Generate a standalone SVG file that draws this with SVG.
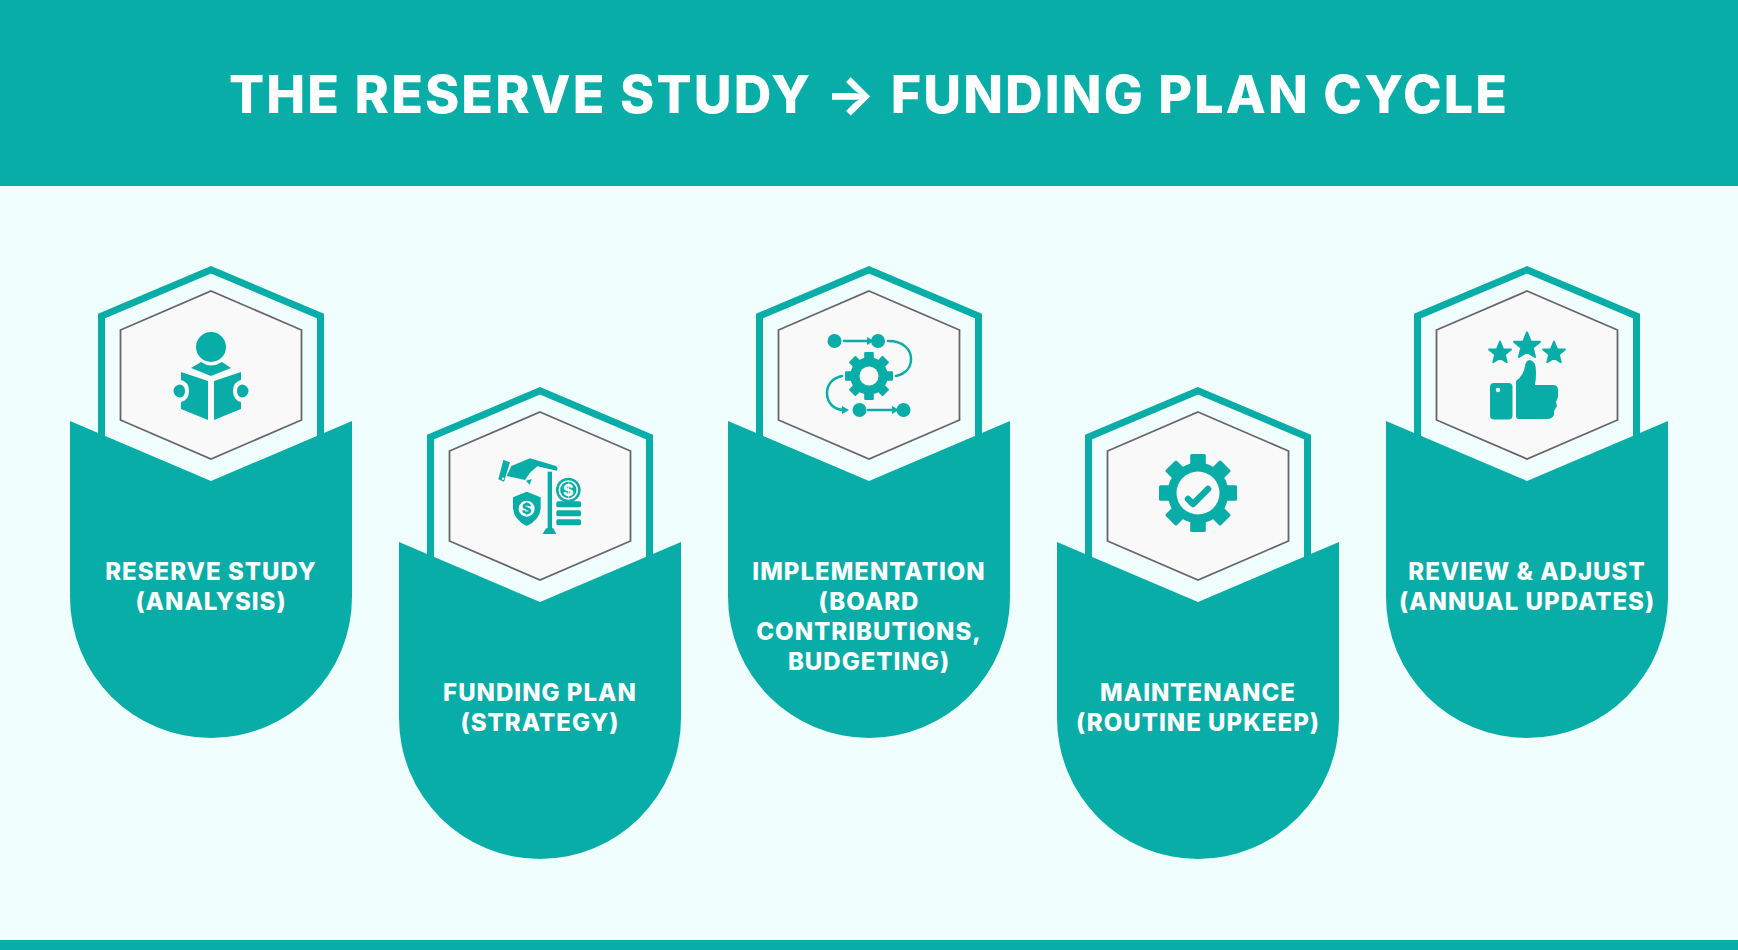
<svg xmlns="http://www.w3.org/2000/svg" width="1738" height="950" viewBox="0 0 1738 950">
<style>
.t{fill:#09ADA7}
.h{fill:none;stroke:#09ADA7;stroke-width:7;stroke-linejoin:miter}
.i{fill:#F9F9F9;stroke:#666;stroke-width:1.800;stroke-linejoin:miter}
.l{font-family:"Inter","Liberation Sans",sans-serif;font-weight:800;font-size:24px;fill:#fff;text-anchor:middle;letter-spacing:1px}
.w{fill:#fff}
.ln{fill:none;stroke:#09ADA7;stroke-linecap:round}
</style>
<defs>
<g id="frame">
<path class="h" d="M-109.500 190V50L0 3.800L109.500 50V190"/>
<path class="i" d="M0 25L90.500 64V154L0 193L-90.500 154V64Z"/>
<path class="t" d="M-141 155L0 215L141 155V331A141 141 0 0 1 -141 331Z"/>
</g>
<path id="star" d="M0 -1L.27 -.33L.951 -.309L.42 .13L.588 .809L0 .44L-.588 .809L-.42 .13L-.951 -.309L-.27 -.33Z" fill="#09ADA7" stroke="#09ADA7" stroke-width=".16" stroke-linejoin="round"/>
<g id="gear" class="t">
<circle r=".78"/>
<rect x="-.2" y="-1" width=".4" height="2" rx=".04"/>
<rect x="-.2" y="-1" width=".4" height="2" rx=".04" transform="rotate(45)"/>
<rect x="-.2" y="-1" width=".4" height="2" rx=".04" transform="rotate(90)"/>
<rect x="-.2" y="-1" width=".4" height="2" rx=".04" transform="rotate(135)"/>
</g>
</defs>
<rect width="1738" height="950" fill="#F0FFFE"/>
<rect width="1738" height="186" class="t"/>
<rect y="940" width="1738" height="10" class="t"/>
<text x="869" y="113" font-family="Inter,'Liberation Sans',sans-serif" font-weight="800" font-size="52" fill="#fff" text-anchor="middle" letter-spacing="2.100">THE RESERVE STUDY → FUNDING PLAN CYCLE</text>

<g id="node-reserve-study">
<use href="#frame" transform="translate(211 266)"/>
<circle class="t" cx="211" cy="347" r="15"/>
<path class="t" d="M191 368L201 362Q211 369 222 362L231 368L211 376Z"/>
<path class="t" d="M181 372L208 381V420L181 409V402Q189 400 189 391Q189 382 181 380Z"/>
<path class="t" d="M241 372L214 381V420L241 409V402Q233 400 233 391Q233 382 241 380Z"/>
<path class="t" d="M180 384.500Q185 385.500 185 391Q185 396.500 180 397.500A6.500 6.500 0 0 1 180 384.500Z"/>
<path class="t" d="M242 384.500Q237 385.500 237 391Q237 396.500 242 397.500A6.500 6.500 0 0 0 242 384.500Z"/>
<text class="l" x="211" y="580">RESERVE STUDY</text>
<text class="l" x="211" y="610">(ANALYSIS)</text>
</g>

<g id="node-funding-plan">
<use href="#frame" transform="translate(540 387)"/>
<g transform="translate(480 430) scale(.3333)">
<path class="t" d="M70 90L90 97L72 155L55 148Z"/>
<circle class="w" cx="69" cy="146" r="3.500"/>
<path class="t" d="M94 108L150 85L228 108Q236 114 230 122L172 109L150 128L135 150L80 138Z"/>
<path class="t" d="M138 152L155 147L149 164Z"/>
<rect class="t" x="203" y="125" width="13" height="175"/>
<path class="t" d="M188 312L198 295H220L229 312Z"/>
<circle class="t" cx="265" cy="180" r="37"/>
<circle fill="none" stroke="#F9F9F9" stroke-width="5" cx="265" cy="180" r="27"/>
<text x="265" y="198" font-family="Inter,sans-serif" font-weight="800" font-size="48" fill="#F9F9F9" text-anchor="middle">$</text>
<rect class="t" x="229" y="214" width="74" height="18" rx="5"/>
<rect class="t" x="229" y="241" width="74" height="18" rx="5"/>
<rect class="t" x="229" y="268" width="74" height="18" rx="5"/>
<path class="t" d="M140 185L182 202V235Q180 270 140 288Q102 270 99 235V202Z"/>
<circle cx="140" cy="236" r="24" fill="#F9F9F9"/>
<text x="140" y="252" font-family="Inter,sans-serif" font-weight="800" font-size="44" fill="#09ADA7" text-anchor="middle">$</text>
</g>
<text class="l" x="540" y="701">FUNDING PLAN</text>
<text class="l" x="540" y="731">(STRATEGY)</text>
</g>

<g id="node-implementation">
<use href="#frame" transform="translate(869 266)"/>
<g class="t">
<circle cx="834.500" cy="341" r="7"/><circle cx="878" cy="341" r="7"/>
<circle cx="859.500" cy="410" r="7"/><circle cx="903.500" cy="410" r="7"/>
<path d="M867 337L874 341L867 345Z"/>
<path d="M842 406L849 410L842 414Z"/>
<path d="M892 406L899 410L892 414Z"/>
</g>
<use href="#gear" transform="translate(869 376) scale(24)"/>
<circle cx="869" cy="376" r="9.500" fill="#F9F9F9"/>
<path class="ln" stroke-width="2.500" d="M844 341H868M868 410H893"/>
<path class="ln" stroke-width="2.500" d="M888 341C904 341 911 350 911 359C911 368 905 374 896 376"/>
<path class="ln" stroke-width="2.500" d="M842 376C832 378 827 385 827 393C827 403 834 410 844 410"/>
<text class="l" x="869" y="580">IMPLEMENTATION</text>
<text class="l" x="869" y="610">(BOARD</text>
<text class="l" x="869" y="640">CONTRIBUTIONS,</text>
<text class="l" x="869" y="670">BUDGETING)</text>
</g>

<g id="node-maintenance">
<use href="#frame" transform="translate(1198 387)"/>
<use href="#gear" transform="translate(1198 493) scale(39)"/>
<circle cx="1198" cy="493" r="21.500" fill="#F9F9F9"/>
<path class="ln" stroke-width="6.500" stroke-linejoin="round" d="M1188 499L1193 504L1208 489"/>
<text class="l" x="1198" y="701">MAINTENANCE</text>
<text class="l" x="1198" y="731">(ROUTINE UPKEEP)</text>
</g>

<g id="node-review">
<use href="#frame" transform="translate(1527 266)"/>
<use href="#star" transform="translate(1500 353) scale(11.500)"/>
<use href="#star" transform="translate(1527 346) scale(13.500)"/>
<use href="#star" transform="translate(1554 353) scale(11.500)"/>
<rect class="t" x="1490" y="383" width="22.500" height="36.500" rx="4"/>
<circle class="w" cx="1498" cy="390" r="2.200"/>
<path class="t" d="M1516 381Q1524 375 1525 366Q1526 360 1530 360Q1536 361 1536 372Q1536 380 1535 385H1553Q1558 385 1558 390V397L1556 402L1557 406L1554 411L1554 415Q1552 419 1547 419H1519Q1516 419 1516 416Z"/>
<text class="l" x="1527" y="580">REVIEW &amp; ADJUST</text>
<text class="l" x="1527" y="610">(ANNUAL UPDATES)</text>
</g>
<g id="connectors"/>
</svg>
